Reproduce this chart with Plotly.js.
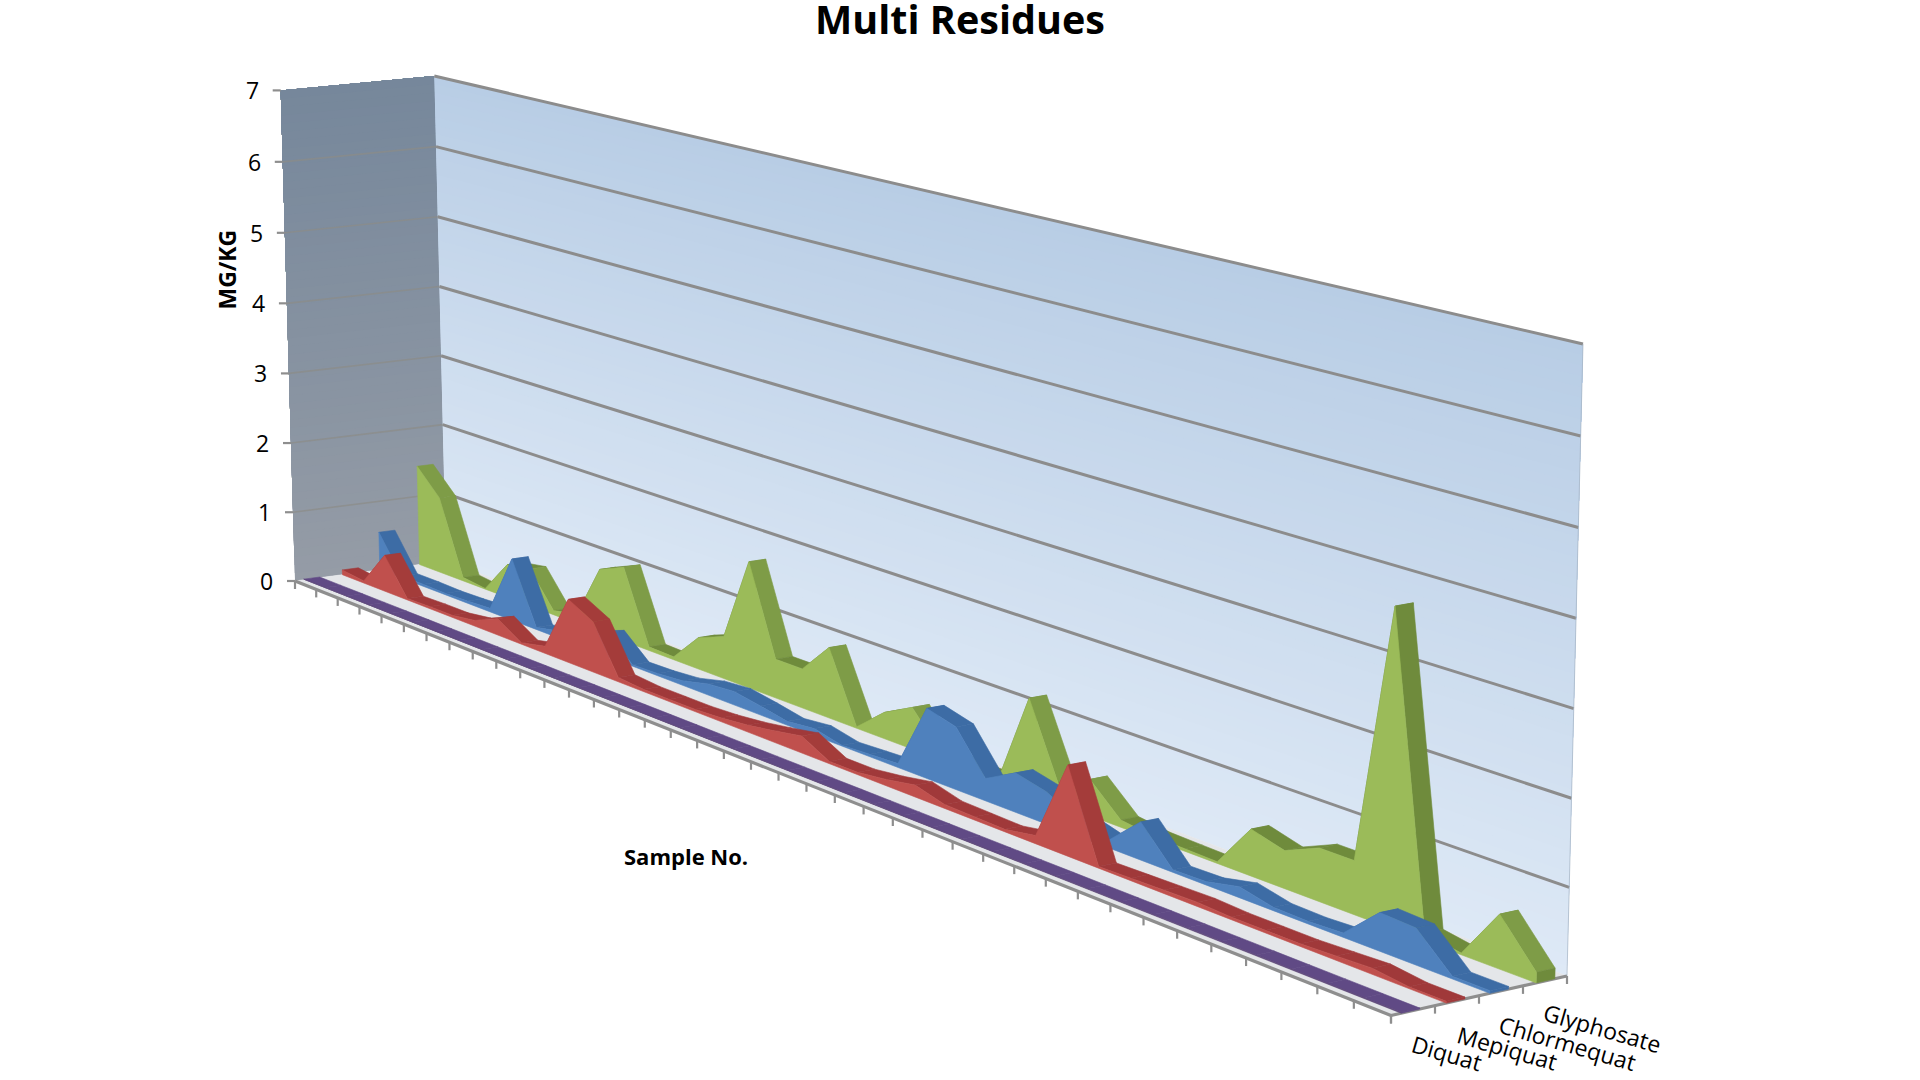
<!DOCTYPE html>
<html>
<head>
<meta charset="utf-8">
<script src="https://cdn.plot.ly/plotly-3.0.1.min.js"></script>
<style>html,body{margin:0;padding:0;background:#fff}#chart{width:1920px;height:1080px}</style>
</head>
<body>
<div id="chart"></div>
<script>
// ---- data (mg/kg), samples 1..40 ----
var seriesNames = ["Diquat", "Mepiquat", "Chlormequat", "Glyphosate"];
var yTicks = [0, 1, 2, 3, 4, 5, 6, 7];
var diquat = [0.01,0.01,0.01,0.01,0.01,0.01,0.01,0.01,0.01,0.01,0.01,0.01,0.01,0.01,0.01,0.01,0.01,0.01,0.01,0.01,0.01,0.01,0.01,0.01,0.01,0.01,0.01,0.01,0.01,0.01,0.01,0.01,0.01,0.01,0.01,0.01,0.01,0.01,0.01,0.01];
var mepiquat = [0.07,0.03,0.52,0.02,0.03,0.03,0.08,0.23,0.02,0.10,0.87,0.69,0.06,0.03,0.03,0.03,0.05,0.09,0.15,0.22,0.03,0.03,0.08,0.15,0.05,0.04,0.03,0.10,1.10,0.02,0.03,0.04,0.05,0.03,0.03,0.03,0.05,0.07,0.02,0.02];
var chlormequat = [0.55,0.03,0.03,0.02,0.03,0.05,0.87,0.03,0.10,0.20,0.33,0.02,0.03,0.06,0.15,0.18,0.12,0.05,0.09,0.01,0.03,0.05,0.89,0.79,0.28,0.49,0.40,0.20,0.09,0.46,0.03,0.04,0.13,0.04,0.03,0.05,0.44,0.42,0.03,0.03];
var glyphosate = [1.44,1.09,0.05,0.01,0.47,0.53,0.06,0.13,0.88,1.03,0.05,0.04,0.43,0.57,1.70,0.52,0.52,0.93,0.02,0.34,0.54,0.10,0.05,0.05,1.19,0.23,0.45,0.09,0.04,0.03,0.02,0.56,0.45,0.63,0.63,3.70,0.09,0.02,0.62,0.12];

// ---- projection of the 3-D box onto the page ----
var corner = {
  fl0:[295,581],     fl1:[280.7,90.4],
  bl0:[446,561],     bl1:[434.3,76],
  fr0:[1391,1015.5], fr1:[1408.5,370],
  br0:[1567,976],    br1:[1583,344]
};
var persp = -0.25, perspZ = -0.022, yMax = 7;
function lerp(a,b,f){return [a[0]+(b[0]-a[0])*f, a[1]+(b[1]-a[1])*f];}
function P(t,v,w){
  var bot = lerp(lerp(corner.fl0,corner.fr0,t), lerp(corner.bl0,corner.br0,t), v);
  var top = lerp(lerp(corner.fl1,corner.fr1,t), lerp(corner.bl1,corner.br1,t), v);
  return lerp(bot,top,w*(1+perspZ)/(1+perspZ*w));
}
function tOf(i,n){var t=i/(n-1); return t*(1+persp)/(1+persp*t);}
function hex(a,b,f){
  function ch(s,k){return parseInt(s.substr(k,2),16);}
  var o='rgb(';
  for(var k=1;k<6;k+=2){o+=Math.round(ch(a,k)+(ch(b,k)-ch(a,k))*f)+(k<5?',':')');}
  return o;
}
var traces=[];
function poly(pts,color,lw){
  var x=pts.map(function(p){return p[0];}), y=pts.map(function(p){return p[1];});
  x.push(x[0]); y.push(y[0]);
  traces.push({type:'scatter',mode:'lines',x:x,y:y,fill:'toself',fillcolor:color,
    line:{color:color,width:lw===undefined?0.6:lw},hoverinfo:'skip',showlegend:false});
}
function segs(list,color,width){
  var x=[],y=[];
  list.forEach(function(s){x.push(s[0][0],s[1][0],null);y.push(s[0][1],s[1][1],null);});
  traces.push({type:'scatter',mode:'lines',x:x,y:y,line:{color:color,width:width},hoverinfo:'skip',showlegend:false});
}

// walls: each band runs up to the wall's top, so no seams appear between bands
var bands=60;
for(var k=0;k<bands;k++){
  var a=k/bands,f=(k+0.5)/bands;
  poly([P(0,0,a),P(0,1,a),P(0,1,1),P(0,0,1)],hex('#959CA6','#76879B',f),0);
  poly([P(0,1,a),P(1,1,a),P(1,1,1),P(0,1,1)],hex('#DEE9F6','#B8CDE5',f),0);
}
// gridlines
var gridBack=[],gridLeft=[];
yTicks.forEach(function(v){
  var w=v/yMax;
  if(v>0){ gridBack.push([P(0,1,w),P(1,1,w)]); }
  if(v>0&&v<yMax){ gridLeft.push([P(0,0,w),P(0,1,w)]); }
});
segs(gridLeft,'rgba(140,140,135,0.7)',1.6);
segs(gridBack,'#8C8C8C',3);
segs([[P(1,1,0),P(1,1,1)]],'rgba(165,180,195,0.7)',1);
// floor
poly([P(0,0,0),P(1,0,0),P(1,1,0),P(0,1,0)],'#E4E6E9');

// axes and ticks
var nS=glyphosate.length, tickSeg=[], axisSeg=[];
axisSeg.push([P(0,0,0),P(1,0,0)]);
axisSeg.push([P(1,0,0),P(1,1,0)]);
for(var i=0;i<nS;i++){var p=P(tOf(i,nS),0,0); tickSeg.push([p,[p[0],p[1]+8]]);}
for(var d=0;d<=seriesNames.length;d++){var q=P(1,d/seriesNames.length,0); tickSeg.push([q,[q[0],q[1]+8]]);}
yTicks.forEach(function(v){var r=P(0,0,v/yMax); tickSeg.push([r,[r[0]-8,r[1]]]);});
segs(axisSeg,'#8E8E8E',3.2);
segs(tickSeg,'#8E8E8E',2.2);

// series slabs, back to front
var slabs=[
 {vals:glyphosate, v0:0.825, front:'#9BBB59', top:'#7E9C47', dark:'#6F8B3C', cap:'#6F8B3C'},
 {vals:chlormequat,v0:0.562, front:'#4F81BD', top:'#3D6CA5', dark:'#3D6CA5', cap:'#3D6CA5'},
 {vals:mepiquat,   v0:0.314, front:'#C0504D', top:'#A43C3A', dark:'#A0393A', cap:'#A0393A'},
 {vals:diquat,     v0:0.058, front:'#604A7B', top:'#604A85', dark:'#604A85', cap:'#604A85'}
];
var slabW=0.106;
slabs.forEach(function(s){
  var n=s.vals.length, v1=s.v0+slabW;
  for(var i=0;i<n-1;i++){
    var t0=tOf(i,n),t1=tOf(i+1,n),w0=s.vals[i]/yMax,w1=s.vals[i+1]/yMax;
    var drop=s.vals[i]-s.vals[i+1];
    var col=(drop>0.15&&drop<1.6)?s.top:s.dark;
    poly([P(t0,s.v0,w0),P(t1,s.v0,w1),P(t1,v1,w1),P(t0,v1,w0)],col);
  }
  poly([P(1,s.v0,0),P(1,v1,0),P(1,v1,s.vals[n-1]/yMax),P(1,s.v0,s.vals[n-1]/yMax)],s.cap);
  var front=[];
  for(var j=0;j<n;j++){front.push(P(tOf(j,n),s.v0,s.vals[j]/yMax));}
  front.push(P(1,s.v0,0)); front.push(P(0,s.v0,0));
  poly(front,s.front);
});

// text
var font='"Open Sans", sans-serif';
var ann=[];
yTicks.forEach(function(v){
  var p=P(0,0,v/yMax);
  ann.push({x:p[0]-20,y:p[1],text:String(v),showarrow:false,xanchor:'right',yanchor:'middle',font:{family:font,size:23,color:'#000'}});
});
var depthPos=[[1447,1053],[1507,1048],[1567,1043],[1602,1028]];
seriesNames.forEach(function(nm,i){
  ann.push({x:depthPos[i][0],y:depthPos[i][1],text:nm,showarrow:false,textangle:16,font:{family:font,size:23,color:'#000'}});
});
ann.push({x:226.5,y:270,text:'<b>MG/KG</b>',showarrow:false,textangle:-90,font:{family:font,size:23,color:'#000'}});
ann.push({x:686,y:856,text:'<b>Sample No.</b>',showarrow:false,font:{family:font,size:22,color:'#000'}});
ann.forEach(function(a){a.xref='x';a.yref='y';});

Plotly.newPlot('chart',traces,{
  width:1920,height:1080,
  margin:{l:0,r:0,t:0,b:0},
  paper_bgcolor:'#fff',plot_bgcolor:'#fff',showlegend:false,
  title:{text:'<b>Multi Residues</b>',x:0.5,xanchor:'center',y:1-20/1080,yanchor:'middle',font:{family:font,size:39.5,color:'#000'}},
  xaxis:{range:[0,1920],visible:false,fixedrange:true},
  yaxis:{range:[1080,0],visible:false,fixedrange:true},
  annotations:ann
},{displayModeBar:false,staticPlot:true});
</script>
</body>
</html>
